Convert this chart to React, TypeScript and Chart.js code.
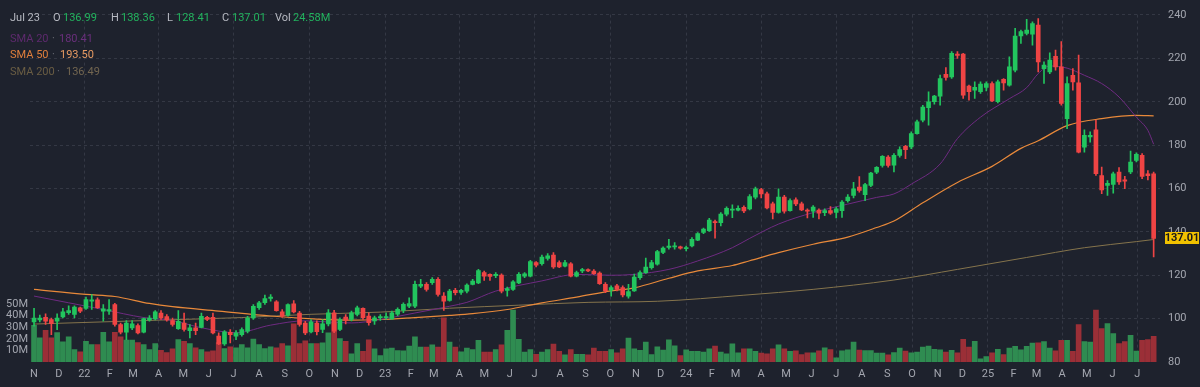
import React, { useEffect, useRef } from 'react';
import { Chart, registerables } from 'chart.js';

Chart.register(...registerables);

// ---------- data (weekly candles, first week = Mon 1 Nov 2021) ----------
const OPEN = [
  98.5, 99.4, 100.6, 99.6, 98.8, 100.8, 102.8, 101.9, 105.0, 104.7,
  108.0, 108.7, 103.4, 103.4, 106.5, 97.3, 93.7, 95.7, 96.8, 93.7,
  99.4, 99.9, 102.6, 100.9, 99.1, 95.4, 98.0, 94.5, 95.7, 96.0,
  100.6, 100.6, 91.9, 88.3, 93.7, 91.9, 92.6, 94.2, 100.3, 105.0,
  107.3, 109.3, 107.7, 103.1, 101.6, 106.8, 102.6, 98.0, 93.9, 98.0,
  95.0, 97.6, 102.7, 95.0, 100.7, 99.6, 101.9, 104.7, 101.2, 98.9,
  100.4, 100.4, 99.9, 102.0, 103.8, 105.8, 105.8, 115.0, 115.8, 116.6,
  118.1, 110.4, 108.4, 113.0, 112.1, 112.7, 115.8, 116.5, 121.2, 120.4,
  119.8, 120.1, 113.0, 113.5, 116.5, 119.6, 119.6, 125.8, 125.3, 127.8,
  129.3, 125.8, 124.2, 125.3, 119.6, 122.0, 122.6, 121.9, 121.0, 115.8,
  113.1, 115.1, 114.3, 110.4, 112.8, 118.9, 121.2, 123.5, 125.1, 130.5,
  132.8, 133.1, 133.1, 132.2, 133.5, 136.2, 139.7, 140.5, 144.8, 144.3,
  148.2, 150.0, 150.0, 151.3, 150.6, 156.0, 159.5, 157.5, 152.9, 149.0,
  156.0, 149.8, 154.8, 152.9, 150.1, 149.5, 150.1, 148.9, 149.8, 149.0,
  149.8, 154.4, 156.8, 160.6, 157.2, 161.4, 167.5, 170.6, 174.5, 170.7,
  175.3, 179.5, 179.2, 185.3, 191.5, 197.3, 200.0, 202.6, 212.7, 211.5,
  222.0, 222.0, 207.2, 205.3, 204.6, 206.6, 208.4, 200.0, 210.3, 207.7,
  214.6, 230.3, 231.5, 231.2, 235.3, 215.3, 213.8, 221.0, 216.1, 192.2,
  212.2, 208.7, 179.1, 183.8, 187.1, 166.0, 161.4, 161.9, 167.6, 164.0,
  167.6, 173.0, 175.3, 166.8, 166.8,
];
const HIGH = [
  104.7, 101.6, 102.2, 100.3, 102.2, 104.7, 105.9, 105.9, 105.3, 109.9,
  111.1, 109.6, 106.5, 108.8, 107.0, 98.0, 99.1, 99.1, 97.6, 100.3,
  101.4, 103.7, 103.7, 101.9, 100.3, 103.7, 102.6, 97.3, 98.0, 102.6,
  101.1, 102.6, 93.4, 94.5, 94.9, 94.5, 95.7, 101.1, 106.5, 108.0,
  110.8, 111.1, 108.3, 104.2, 106.8, 108.3, 103.4, 98.8, 99.6, 99.0,
  99.6, 104.2, 103.8, 100.4, 101.9, 103.5, 105.8, 105.0, 102.7, 101.2,
  101.9, 102.7, 103.5, 105.0, 107.3, 109.6, 117.3, 118.1, 116.6, 118.9,
  118.9, 112.0, 113.5, 114.0, 113.5, 116.1, 118.1, 122.7, 121.9, 120.7,
  121.2, 120.7, 114.5, 117.6, 121.2, 121.2, 126.9, 126.3, 129.3, 130.0,
  130.4, 126.6, 126.9, 125.8, 121.9, 123.2, 123.0, 122.6, 121.6, 116.6,
  115.1, 115.8, 115.1, 115.8, 120.5, 122.0, 127.9, 126.9, 131.5, 133.1,
  136.6, 135.1, 133.5, 133.5, 137.4, 139.7, 141.7, 146.3, 145.4, 148.9,
  151.6, 152.5, 152.0, 152.0, 157.2, 160.6, 160.1, 158.3, 153.7, 159.8,
  156.8, 155.2, 155.7, 153.7, 150.6, 152.1, 150.6, 150.6, 151.7, 151.4,
  154.4, 157.2, 162.9, 165.5, 162.4, 167.5, 170.1, 175.2, 175.2, 176.1,
  179.2, 179.9, 186.1, 191.5, 198.4, 204.6, 203.0, 212.3, 215.8, 223.1,
  223.1, 222.3, 207.7, 209.2, 209.2, 209.2, 209.2, 210.0, 210.7, 220.7,
  233.8, 233.1, 238.0, 236.9, 238.4, 218.4, 222.6, 223.8, 227.7, 211.5,
  215.3, 221.5, 187.1, 186.1, 191.5, 169.9, 163.7, 167.6, 169.6, 165.6,
  177.3, 176.4, 176.1, 168.3, 167.6,
];
const LOW = [
  96.5, 98.5, 97.3, 92.6, 94.9, 100.3, 101.9, 100.3, 102.8, 104.2,
  104.2, 104.7, 98.8, 101.9, 96.5, 92.9, 90.3, 94.9, 92.9, 93.4,
  98.8, 99.4, 99.6, 98.8, 96.5, 95.0, 94.2, 91.1, 92.6, 95.7,
  99.1, 93.0, 88.0, 87.7, 88.8, 90.3, 91.9, 93.4, 99.6, 104.2,
  106.5, 108.0, 103.4, 100.6, 101.1, 102.6, 96.5, 92.6, 93.4, 92.5,
  93.5, 96.6, 93.5, 94.5, 97.6, 98.9, 101.2, 99.6, 97.0, 97.3,
  99.2, 99.6, 99.6, 101.2, 102.7, 105.0, 105.0, 114.3, 112.7, 115.8,
  110.4, 103.8, 108.1, 110.9, 111.2, 111.9, 115.5, 116.1, 117.6, 117.6,
  118.9, 111.9, 110.4, 113.0, 116.1, 118.9, 119.2, 123.8, 124.7, 126.9,
  123.2, 123.5, 123.8, 119.2, 119.2, 121.2, 121.6, 120.4, 115.8, 112.0,
  110.4, 112.8, 110.0, 109.4, 112.5, 118.1, 120.8, 122.8, 124.6, 130.0,
  132.0, 132.0, 132.0, 131.2, 133.1, 135.9, 139.2, 140.2, 137.1, 142.8,
  147.4, 146.6, 149.7, 148.9, 150.1, 155.2, 155.7, 150.6, 146.0, 148.6,
  148.6, 149.5, 152.1, 149.8, 146.4, 146.7, 146.0, 147.5, 148.0, 146.4,
  146.7, 153.7, 155.7, 158.3, 154.4, 160.9, 166.8, 169.8, 169.8, 167.6,
  174.5, 173.8, 178.4, 185.0, 190.7, 189.2, 198.9, 198.4, 210.0, 210.7,
  220.0, 201.5, 200.7, 201.5, 203.8, 205.0, 200.0, 199.5, 205.3, 207.2,
  213.8, 226.9, 230.8, 226.1, 213.8, 208.4, 213.0, 214.6, 198.4, 187.6,
  205.3, 176.4, 176.8, 181.4, 166.0, 157.6, 156.8, 157.9, 161.9, 159.9,
  166.8, 172.2, 164.5, 164.0, 128.41,
];
const CLOSE = [
  100.3, 100.3, 98.8, 97.7, 100.3, 103.1, 103.7, 105.3, 103.4, 108.8,
  108.7, 105.0, 104.5, 104.2, 97.3, 93.7, 98.0, 97.6, 93.4, 100.0,
  100.3, 103.1, 100.3, 99.4, 97.3, 98.8, 95.0, 95.7, 94.5, 101.1,
  99.6, 93.4, 88.3, 93.9, 92.6, 93.4, 95.0, 100.3, 105.7, 107.3,
  109.3, 109.9, 103.7, 101.1, 106.5, 103.1, 97.3, 93.4, 98.5, 94.0,
  97.6, 102.7, 94.2, 99.6, 99.2, 102.7, 105.0, 100.4, 98.1, 100.4,
  101.0, 101.0, 102.7, 104.3, 106.6, 106.9, 115.8, 115.8, 113.5, 118.1,
  111.2, 108.1, 112.7, 112.0, 113.0, 115.5, 117.3, 122.2, 119.6, 119.5,
  120.4, 112.7, 113.9, 117.0, 120.4, 120.7, 126.3, 124.7, 128.4, 128.9,
  123.8, 123.8, 125.8, 119.6, 121.2, 122.6, 122.0, 120.7, 116.1, 112.8,
  114.3, 113.5, 110.9, 112.5, 119.2, 121.2, 123.8, 125.8, 130.9, 132.5,
  133.5, 133.5, 132.5, 132.8, 136.6, 139.2, 141.3, 145.4, 144.2, 148.2,
  150.9, 150.4, 150.9, 149.7, 156.3, 159.8, 157.5, 151.0, 149.0, 156.0,
  149.5, 154.4, 152.9, 150.1, 149.5, 151.4, 148.6, 149.8, 148.6, 150.6,
  153.7, 156.0, 159.8, 159.1, 161.8, 167.1, 169.8, 174.8, 170.6, 175.3,
  177.9, 177.9, 185.3, 190.7, 197.6, 200.0, 202.6, 210.7, 211.2, 222.3,
  221.4, 203.0, 204.6, 206.6, 208.1, 208.4, 200.4, 209.2, 208.7, 216.1,
  230.3, 232.3, 233.1, 236.1, 218.4, 216.9, 219.2, 216.1, 199.2, 208.4,
  209.2, 176.8, 184.5, 184.5, 166.8, 159.4, 162.4, 166.8, 163.0, 163.4,
  172.2, 175.8, 165.6, 165.9, 137.01,
];
// weekly volume, millions
const VOLUME = [
  31.7, 20.8, 27.3, 20.8, 25.4, 17.3, 21.7, 10.7, 8.7, 17.9,
  15.0, 15.0, 25.6, 17.3, 25.6, 21.7, 18.8, 18.8, 16.8, 15.0,
  10.7, 15.9, 10.1, 8.1, 11.3, 19.4, 17.9, 15.9, 12.2, 10.7,
  8.7, 9.6, 16.8, 11.6, 13.0, 12.2, 15.0, 12.2, 19.7, 15.0,
  11.6, 13.0, 12.2, 15.9, 13.9, 32.9, 15.9, 18.2, 15.9, 15.9,
  16.6, 25.1, 34.6, 20.1, 17.8, 7.1, 15.8, 9.1, 19.2, 11.4,
  5.6, 11.4, 12.0, 9.9, 9.6, 13.7, 21.8, 12.9, 12.9, 14.9,
  12.9, 38.1, 17.2, 12.9, 8.8, 12.0, 10.8, 18.7, 8.5, 8.5,
  10.8, 14.9, 27.4, 44.8, 19.6, 8.5, 10.8, 6.7, 8.5, 10.8,
  15.5, 9.1, 6.1, 10.8, 6.7, 6.7, 6.1, 12.0, 9.1, 9.2,
  10.8, 7.9, 11.4, 20.7, 11.4, 10.0, 17.2, 6.4, 13.1, 10.3,
  19.1, 13.9, 5.6, 10.5, 9.1, 9.1, 8.5, 11.4, 13.7, 8.5,
  7.0, 15.7, 7.9, 11.4, 11.4, 9.1, 7.6, 7.0, 11.4, 14.9,
  11.4, 9.1, 9.7, 6.4, 7.8, 7.8, 9.7, 12.2, 10.7, 3.5,
  9.7, 10.5, 17.2, 10.2, 9.9, 9.9, 7.6, 7.6, 6.1, 8.2,
  12.0, 9.4, 7.9, 8.5, 12.9, 13.8, 10.9, 10.5, 8.5, 10.0,
  7.9, 19.5, 12.9, 17.8, 2.7, 4.7, 7.9, 10.9, 6.5, 12.0,
  13.5, 10.5, 13.5, 16.4, 16.5, 17.7, 12.0, 9.7, 18.7, 18.7,
  9.1, 32.3, 17.7, 17.2, 44.8, 28.9, 33.2, 24.5, 15.8, 17.7,
  23.0, 9.4, 18.7, 19.3, 22.2,
];

// moving averages (week index, value)
const SMA20_WEEK = [0, 6, 12, 19, 24, 29, 35, 41, 47, 50, 55, 60, 66, 72, 75, 80, 88, 94, 100, 104, 110, 115, 121, 124, 129, 135, 141, 146, 149, 152, 157, 160, 164, 169, 172, 174, 176, 179, 182, 185, 188, 191, 193, 194];
const SMA20_VALUE = [110.4, 107.3, 104.2, 100.5, 99.1, 95.8, 93.5, 97.0, 99.0, 98.6, 98.0, 99.6, 102.6, 105.7, 107.5, 112.7, 117.4, 120.4, 120.0, 120.4, 122.7, 126.6, 132.7, 137.0, 143.6, 148.9, 152.8, 155.9, 157.5, 162.0, 171.3, 183.0, 192.9, 201.4, 206.5, 213.0, 216.5, 215.5, 212.2, 208.4, 202.2, 192.9, 186.8, 180.41];
const SMA50_WEEK = [0, 9, 14, 20, 24, 32, 41, 49, 55, 60, 66, 72, 76, 82, 88, 94, 100, 104, 110, 115, 121, 124, 129, 135, 141, 146, 149, 154, 160, 166, 171, 174, 179, 185, 191, 194];
const SMA50_VALUE = [113.5, 111.2, 110.2, 107.0, 105.5, 103.5, 101.2, 99.8, 99.3, 99.6, 100.5, 101.5, 102.3, 104.2, 107.3, 109.9, 112.8, 114.2, 118.6, 122.0, 124.5, 126.7, 130.4, 134.3, 137.6, 142.0, 145.0, 153.4, 162.8, 170.2, 178.5, 182.0, 189.0, 192.2, 193.7, 193.5];
const SMA200_WEEK = [0, 12, 24, 36, 48, 60, 72, 84, 96, 108, 123, 135, 149, 160, 172, 182, 191, 194];
const SMA200_VALUE = [97.5, 98.5, 99.5, 100.5, 102.0, 103.0, 104.8, 106.2, 107.5, 108.0, 110.8, 113.5, 117.8, 122.7, 128.2, 132.7, 135.5, 136.49];

const MONTH_LABELS = ['N', 'D', '22', 'F', 'M', 'A', 'M', 'J', 'J', 'A', 'S', 'O', 'N', 'D', '23', 'F', 'M', 'A', 'M', 'J', 'J', 'A', 'S', 'O', 'N', 'D', '24', 'F', 'M', 'A', 'M', 'J', 'J', 'A', 'S', 'O', 'N', 'D', '25', 'F', 'M', 'A', 'M', 'J', 'J'];
const PRICE_TICKS = [80, 100, 120, 140, 160, 180, 200, 220, 240];
const VOLUME_TICKS = [10, 20, 30, 40, 50];
const LAST_PRICE = 137.01;

const HEADER = [
  { text: 'Jul 23', x: 10, kind: 'label' },
  { text: 'O', x: 53, kind: 'label' }, { text: '136.99', x: 63, kind: 'value' },
  { text: 'H', x: 111, kind: 'label' }, { text: '138.36', x: 121, kind: 'value' },
  { text: 'L', x: 167, kind: 'label' }, { text: '128.41', x: 176, kind: 'value' },
  { text: 'C', x: 222, kind: 'label' }, { text: '137.01', x: 232, kind: 'value' },
  { text: 'Vol', x: 275, kind: 'label' }, { text: '24.58M', x: 293, kind: 'value' },
];
const SMA_ROWS = [
  { name: 'SMA 20', value: '180.41', color: '#5e2a6e', valueColor: '#6a2f7c', top: 32, dot: 52, val: 59 },
  { name: 'SMA 50', value: '193.50', color: '#e07f3c', valueColor: '#e69a62', top: 48, dot: 52, val: 60 },
  { name: 'SMA 200', value: '136.49', color: '#6a5d43', valueColor: '#736650', top: 65, dot: 57, val: 66 },
];

// ---------- styling ----------
const BG = '#1e222d';
const GRID = '#343844';
const AXIS_TEXT = '#a3a6af';
const UP = '#22c55e';
const DOWN = '#ef4444';
const VOL_UP = '#2f8c51';
const VOL_DOWN = '#9b2f37';
const FONT = 'Roboto, "Noto Sans", "DejaVu Sans", sans-serif';

const START = Date.UTC(2021, 10, 1);
const WEEK_MS = 7 * 24 * 3600 * 1000;
const MONTH_POS = MONTH_LABELS.map((_, k) => (Date.UTC(2021, 10 + k, 1) - START) / WEEK_MS);
const MONTH_QUARTER = MONTH_LABELS.map((_, k) => ((10 + k) % 12) % 3 === 0);

// pixel targets for the value axes (240 at y=15, 80 / 0 at bottom of the plot)
const PRICE_TOP_PX = 15;
const VOL_PX_PER_M = 1.16;

const rangePlugin = {
  id: 'rangeFit',
  afterLayout(chart: any) {
    const y = chart.scales.y;
    const v = chart.scales.vol;
    const T = y.top;
    const B = y.bottom;
    const ppu = (B - PRICE_TOP_PX) / (240 - 80);
    y.min = 80;
    y.max = 240 + (PRICE_TOP_PX - T) / ppu;
    y.configure();
    v.min = 0;
    v.max = (B - T) / VOL_PX_PER_M;
    v.configure();
  },
};

const tagPlugin = {
  id: 'lastTag',
  afterDraw(chart: any) {
    const y = chart.scales.y;
    const ctx = chart.ctx;
    const py = Math.round(y.getPixelForValue(LAST_PRICE));
    const x0 = chart.chartArea.right + 5;
    ctx.save();
    ctx.fillStyle = '#f2c200';
    ctx.fillRect(x0, py - 6, 34, 12);
    ctx.fillStyle = '#1a1a1a';
    ctx.font = `bold 11px ${FONT}`;
    ctx.textBaseline = 'middle';
    ctx.textAlign = 'center';
    ctx.fillText(String(LAST_PRICE), x0 + 17, py + 0.5);
    ctx.restore();
  },
};

export default function App() {
  const ref = useRef<HTMLCanvasElement>(null);

  useEffect(() => {
    document.body.style.margin = '0';
    document.body.style.background = BG;
    const weeks = OPEN.map((_, i) => i);
    const up = weeks.map((i) => CLOSE[i] >= OPEN[i]);
    const candleColors = up.map((u) => (u ? UP : DOWN));
    const volColors = up.map((u) => (u ? VOL_UP : VOL_DOWN));

    const chart = new Chart(ref.current as HTMLCanvasElement, {
      type: 'bar',
      data: {
        datasets: [
          {
            type: 'bar',
            label: 'body',
            data: weeks.map((i) => ({ x: i, y: [OPEN[i], CLOSE[i]] })) as any,
            backgroundColor: candleColors,
            borderWidth: 0,
            barThickness: 4,
            minBarLength: 1,
            grouped: false,
            yAxisID: 'y',
            order: 0,
          } as any,
          {
            type: 'bar',
            label: 'wick',
            data: weeks.map((i) => ({ x: i, y: [LOW[i], HIGH[i]] })) as any,
            backgroundColor: candleColors,
            borderWidth: 0,
            barThickness: 1,
            grouped: false,
            yAxisID: 'y',
            order: 1,
          } as any,
          {
            type: 'line',
            label: 'SMA 20',
            data: SMA20_WEEK.map((w, k) => ({ x: w, y: SMA20_VALUE[k] })),
            borderColor: '#6f2b82',
            borderWidth: 1,
            pointRadius: 0,
            cubicInterpolationMode: 'monotone',
            yAxisID: 'y',
            order: 2,
          } as any,
          {
            type: 'line',
            label: 'SMA 50',
            data: SMA50_WEEK.map((w, k) => ({ x: w, y: SMA50_VALUE[k] })),
            borderColor: '#e8893a',
            borderWidth: 1.2,
            pointRadius: 0,
            cubicInterpolationMode: 'monotone',
            yAxisID: 'y',
            order: 3,
          } as any,
          {
            type: 'line',
            label: 'SMA 200',
            data: SMA200_WEEK.map((w, k) => ({ x: w, y: SMA200_VALUE[k] })),
            borderColor: '#85744c',
            borderWidth: 1,
            pointRadius: 0,
            cubicInterpolationMode: 'monotone',
            yAxisID: 'y',
            order: 4,
          } as any,
          {
            type: 'bar',
            label: 'Volume',
            data: weeks.map((i) => ({ x: i, y: VOLUME[i] })) as any,
            backgroundColor: volColors,
            borderWidth: 0,
            barThickness: 5,
            grouped: false,
            yAxisID: 'vol',
            order: 5,
          } as any,
        ],
      },
      options: {
        responsive: false,
        animation: false,
        layout: { padding: 0 },
        plugins: { legend: { display: false }, tooltip: { enabled: false } },
        scales: {
          x: {
            type: 'linear',
            min: -0.7,
            max: 195.1,
            offset: false,
            grid: {
              offset: false,
              drawTicks: false,
              color: (c: any) => (MONTH_QUARTER[c.index] ? GRID : 'rgba(0,0,0,0)'),
            },
            border: { display: false, dash: [3, 3] },
            ticks: {
              autoSkip: false,
              maxRotation: 0,
              padding: 6,
              color: AXIS_TEXT,
              font: { family: FONT, size: 11 },
              callback: (_v: any, idx: number) => MONTH_LABELS[idx],
            },
            afterBuildTicks: (s: any) => {
              s.ticks = MONTH_POS.map((v) => ({ value: v }));
            },
            afterFit: (s: any) => {
              s.height = 25;
            },
          } as any,
          y: {
            type: 'linear',
            position: 'right',
            min: 78,
            max: 247,
            grid: {
              drawTicks: false,
              color: (c: any) => (c.tick && c.tick.value === 80 ? 'rgba(0,0,0,0)' : GRID),
            },
            border: { display: false, dash: [3, 3] },
            ticks: {
              padding: 8,
              color: AXIS_TEXT,
              font: { family: FONT, size: 11 },
              callback: (v: any) => String(v),
            },
            afterBuildTicks: (s: any) => {
              s.ticks = PRICE_TICKS.map((v) => ({ value: v }));
            },
            afterFit: (s: any) => {
              s.width = 40;
            },
          } as any,
          vol: {
            type: 'linear',
            position: 'left',
            min: 0,
            max: 300,
            grid: { display: false, drawTicks: false },
            border: { display: false },
            ticks: {
              padding: 2,
              color: AXIS_TEXT,
              font: { family: FONT, size: 11 },
              callback: (v: any) => `${v}M`,
            },
            afterBuildTicks: (s: any) => {
              s.ticks = VOLUME_TICKS.map((v) => ({ value: v }));
            },
            afterFit: (s: any) => {
              s.width = 30;
            },
          } as any,
        },
      },
      plugins: [rangePlugin, tagPlugin],
    });
    return () => chart.destroy();
  }, []);

  return (
    <div
      style={{
        position: 'relative',
        width: 1200,
        height: 387,
        background: BG,
        overflow: 'hidden',
        fontFamily: FONT,
        fontSize: 11,
      }}
    >
      <canvas ref={ref} width={1200} height={387} style={{ display: 'block' }} />
      {HEADER.map((h, k) => (
        <span
          key={k}
          style={{
            position: 'absolute',
            left: h.x,
            top: 11,
            lineHeight: '14px',
            color: h.kind === 'value' ? '#22b35e' : '#b7bac2',
            whiteSpace: 'nowrap',
          }}
        >
          {h.text}
        </span>
      ))}
      {SMA_ROWS.map((r) => (
        <React.Fragment key={r.name}>
          <span style={{ position: 'absolute', left: 10, top: r.top, lineHeight: '14px', color: r.color, whiteSpace: 'nowrap' }}>
            {r.name}
          </span>
          <span style={{ position: 'absolute', left: r.dot, top: r.top, lineHeight: '14px', color: '#6a6d75' }}>·</span>
          <span style={{ position: 'absolute', left: r.val, top: r.top, lineHeight: '14px', color: r.valueColor, whiteSpace: 'nowrap' }}>
            {r.value}
          </span>
        </React.Fragment>
      ))}
    </div>
  );
}
